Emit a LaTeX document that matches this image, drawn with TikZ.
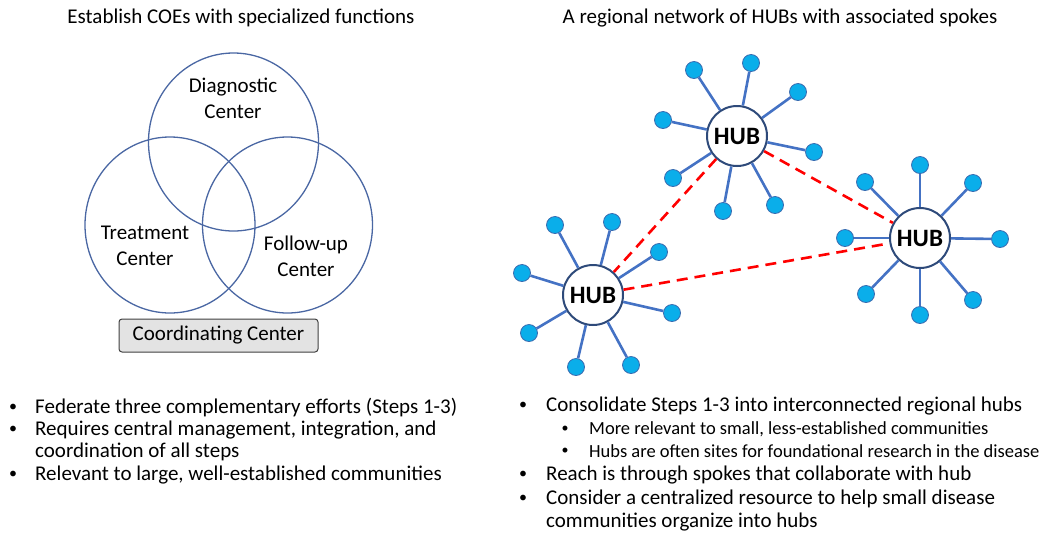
\documentclass[tikz,border=0pt]{standalone}
\usepackage{fontspec}
\setmainfont{Carlito}
\begin{document}
\begin{tikzpicture}[x=1pt,y=-1pt,
  venn/.style={draw=vennblue, line width=1.3pt},
  lbl/.style={font=\fontsize{21}{26}\selectfont, align=center, inner sep=0pt},
  txt/.style={font=\fontsize{21}{24}\selectfont, anchor=west, inner sep=0pt},
  subtxt/.style={font=\fontsize{18.5}{22}\selectfont, anchor=west, inner sep=0pt},
  bul/.style={font=\fontsize{16}{18}\selectfont, anchor=center, inner sep=0pt},
  subbul/.style={font=\fontsize{14}{16}\selectfont, anchor=center, inner sep=0pt},
  hub/.style={circle, draw=hubnavy, line width=2pt, fill=white, minimum size=60pt, inner sep=0pt, font=\fontsize{25}{28}\selectfont\bfseries},
  spoke/.style={circle, draw=spokeedge, line width=0.8pt, fill=spokefill, minimum size=17pt, inner sep=0pt},
  link/.style={draw=spokeline, line width=2.6pt},
  redlink/.style={draw=red, line width=2.6pt, dash pattern=on 11pt off 7pt}]
\definecolor{vennblue}{HTML}{4A67A3}
\definecolor{hubnavy}{HTML}{2E4A7A}
\definecolor{spokeedge}{HTML}{3A6BB0}
\definecolor{spokefill}{HTML}{0AAEEA}
\definecolor{spokeline}{HTML}{4472C4}
\definecolor{boxgray}{HTML}{E3E3E3}
\useasboundingbox (0,0) rectangle (1050,542);

% titles
\node[lbl] (t1) at (241,18) {Establish COEs with specialized functions};
\node[lbl] (t2) at (780,18) {A regional network of HUBs with associated spokes};

% venn
\draw[venn] (233.5,142) ellipse [x radius=85, y radius=89];
\draw[venn] (170,225) ellipse [x radius=85, y radius=88];
\draw[venn] (287.5,225) ellipse [x radius=85, y radius=88];
\node[lbl] (dc) at (233,98.5) {Diagnostic\\Center};
\node[lbl] (tc) at (145,246) {Treatment\\Center};
\node[lbl] (fc) at (306,256) {Follow-up\\Center};
\node[draw=black!75, line width=1pt, fill=boxgray, rounded corners=3pt, minimum width=199pt, minimum height=33pt, inner sep=0pt, font=\fontsize{21}{24}\selectfont] (cc) at (218.5,335.5) {Coordinating Center};

% hubs
\node[hub] (h1) at (737,136) {HUB};
\node[hub] (h2) at (593,295) {HUB};
\node[hub] (h3) at (920,238) {HUB};

% spokes hub 1
\foreach \n/\p in {a1/{(694,70)}, a2/{(751,63)}, a3/{(798,92)}, a4/{(663,120)}, a5/{(814,152)}, a6/{(673,178)}, a7/{(723,211)}, a8/{(775,205)}}{
  \node[spoke] (\n) at \p {};
  \draw[link] (h1) -- (\n);
}
% spokes hub 2
\foreach \n/\p in {b1/{(555,225)}, b2/{(612,222)}, b3/{(659,252)}, b4/{(522,273)}, b5/{(672,313)}, b6/{(529,333)}, b7/{(576,367)}, b8/{(631,365)}}{
  \node[spoke] (\n) at \p {};
  \draw[link] (h2) -- (\n);
}
% spokes hub 3
\foreach \n/\p in {c1/{(865,182)}, c2/{(920,165)}, c3/{(973,183)}, c4/{(845,238)}, c5/{(1000,239)}, c6/{(866,294)}, c7/{(920,315)}, c8/{(973,300)}}{
  \node[spoke] (\n) at \p {};
  \draw[link] (h3) -- (\n);
}

% red dashed links
\draw[redlink] (h1) -- (h2);
\draw[redlink] (h1) -- (h3);
\draw[redlink] (h2) -- (h3);

% left bullets
\node[bul] (lb1) at (13,408) {\textbullet};
\node[txt] (l1) at (35,408) {Federate three complementary efforts (Steps 1-3)};
\node[bul] (lb2) at (13,430) {\textbullet};
\node[txt] (l2) at (35,430) {Requires central management, integration, and};
\node[txt] (l2b) at (35,452) {coordination of all steps};
\node[bul] (lb3) at (13,475) {\textbullet};
\node[txt] (l3) at (35,475) {Relevant to large, well-established communities};

% right bullets
\node[bul] (rb1) at (523,406) {\textbullet};
\node[txt] (r1) at (546,406) {Consolidate Steps 1-3 into interconnected regional hubs};
\node[subbul] (rsb1) at (565,429) {\textbullet};
\node[subtxt] (rs1) at (589,429) {More relevant to small, less-established communities};
\node[subbul] (rsb2) at (565,451) {\textbullet};
\node[subtxt] (rs2) at (589,451) {Hubs are often sites for foundational research in the disease};
\node[bul] (rb2) at (523,475) {\textbullet};
\node[txt] (r2) at (546,475) {Reach is through spokes that collaborate with hub};
\node[bul] (rb3) at (523,499) {\textbullet};
\node[txt] (r3) at (546,499) {Consider a centralized resource to help small disease};
\node[txt] (r3b) at (546,522) {communities organize into hubs};
\end{tikzpicture}
\end{document}
